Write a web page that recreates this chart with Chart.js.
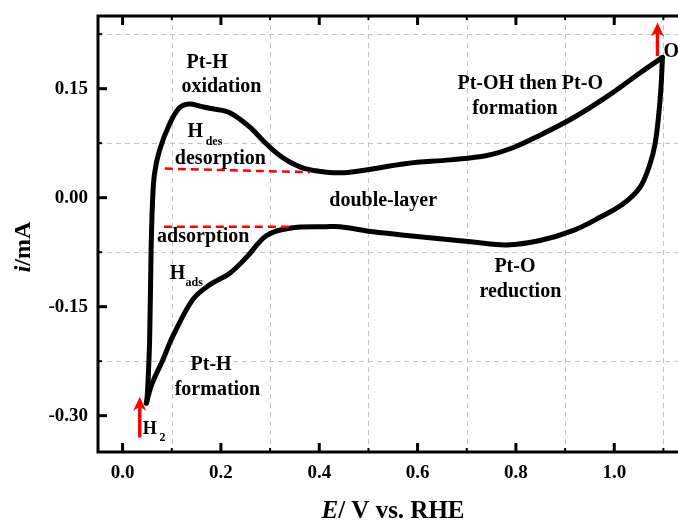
<!DOCTYPE html>
<html><head><meta charset="utf-8">
<script src="https://cdn.jsdelivr.net/npm/chart.js@4.4.0/dist/chart.umd.min.js"></script>
<style>
html,body{margin:0;padding:0;background:#fff;overflow:hidden;width:678px;height:521px;}
#wrap{position:relative;width:700px;height:521px;}
</style></head><body>
<div id="wrap"><canvas id="c" width="700" height="521"></canvas></div>
<script>
// ---- data (E in V vs. RHE, i in mA) ----
const anodicE = [0.049, 0.051, 0.055, 0.058, 0.061, 0.065, 0.075, 0.096, 0.116, 0.136, 0.157, 0.177, 0.218, 0.259, 0.285, 0.314, 0.340, 0.371, 0.415, 0.462, 0.578, 0.666, 0.741, 0.795, 0.849, 0.917, 0.985, 1.053, 1.098];
const anodicI = [-0.282, -0.264, -0.196, -0.072, -0.004, 0.033, 0.065, 0.102, 0.124, 0.129, 0.126, 0.123, 0.117, 0.097, 0.079, 0.061, 0.049, 0.040, 0.035, 0.035, 0.047, 0.052, 0.058, 0.069, 0.086, 0.110, 0.139, 0.172, 0.193];
const cathodicE = [1.098, 1.095, 1.090, 1.083, 1.073, 1.053, 1.019, 0.971, 0.917, 0.849, 0.781, 0.713, 0.578, 0.510, 0.442, 0.415, 0.340, 0.293, 0.252, 0.218, 0.177, 0.143, 0.102, 0.082, 0.060, 0.048];
const cathodicI = [0.193, 0.151, 0.111, 0.074, 0.047, 0.015, -0.008, -0.027, -0.045, -0.059, -0.065, -0.061, -0.052, -0.047, -0.040, -0.040, -0.042, -0.052, -0.082, -0.104, -0.120, -0.140, -0.191, -0.223, -0.256, -0.283];
const hdesLineE = [0.086, 0.381];
const hdesLineI = [0.040, 0.035];
const hadsLineE = [0.084, 0.340];
const hadsLineI = [-0.040, -0.040];
const arrowE = [0.035, 1.088];
const arrowFromI = [-0.330, 0.195];
const arrowToI = [-0.274, 0.241];
const xTickValues = [0.0, 0.2, 0.4, 0.6, 0.8, 1.0];
const yTickValues = [-0.30, -0.15, 0.00, 0.15];
const xMinorValues = [0.1, 0.3, 0.5, 0.7, 0.9, 1.1];
const yMinorValues = [-0.225, -0.075, 0.075, 0.225];

const FAMILY = '"Liberation Serif", "Times New Roman", serif';
const pts = (xs, ys) => xs.map((x, k) => ({x: x, y: ys[k]}));

// text annotations (data coordinates of baseline)
const notes = [
  {t:'Pt-H', e:0.172, i:0.179, s:20, a:'center'},
  {t:'oxidation', e:0.201, i:0.145, s:20, a:'center'},
  {t:'H', e:0.132, i:0.084, s:20, a:'left'},
  {t:'des', e:0.169, i:0.072, s:12, a:'left'},
  {t:'desorption', e:0.199, i:0.046, s:20, a:'center'},
  {t:'double-layer', e:0.530, i:-0.012, s:20, a:'center'},
  {t:'adsorption', e:0.164, i:-0.061, s:20, a:'center'},
  {t:'H', e:0.096, i:-0.112, s:20, a:'left'},
  {t:'ads', e:0.128, i:-0.122, s:12, a:'left'},
  {t:'Pt-H', e:0.180, i:-0.237, s:20, a:'center'},
  {t:'formation', e:0.193, i:-0.271, s:20, a:'center'},
  {t:'Pt-OH then Pt-O', e:0.829, i:0.150, s:20, a:'center'},
  {t:'formation', e:0.798, i:0.115, s:20, a:'center'},
  {t:'Pt-O', e:0.798, i:-0.102, s:20, a:'center'},
  {t:'reduction', e:0.809, i:-0.137, s:20, a:'center'},
  {t:'H', e:0.041, i:-0.325, s:18, a:'left'},
  {t:'2', e:0.075, i:-0.335, s:12, a:'left'},
  {t:'O', e:1.100, i:0.193, s:20, a:'left'},
  {t:'2', e:1.136, i:0.180, s:12, a:'left'}
];

function fnt(size, italic){ return (italic ? 'italic ' : '') + 'bold ' + size + 'px ' + FAMILY; }

const deco = {
  id: 'deco',
  beforeDatasetsDraw(chart){
    const {ctx, chartArea: ca, scales: {x, y}} = chart;
    ctx.save();
    ctx.strokeStyle = '#c4c4c4';
    ctx.lineWidth = 1;
    ctx.setLineDash([5, 4]);
    xMinorValues.forEach(v => {
      const px = Math.round(x.getPixelForValue(v)) + 0.5;
      ctx.beginPath(); ctx.moveTo(px, ca.top); ctx.lineTo(px, ca.bottom); ctx.stroke();
    });
    yMinorValues.forEach(v => {
      const py = Math.round(y.getPixelForValue(v)) + 0.5;
      ctx.beginPath(); ctx.moveTo(ca.left, py); ctx.lineTo(ca.right, py); ctx.stroke();
    });
    ctx.restore();
  },
  afterDatasetsDraw(chart){
    const {ctx, chartArea: ca, scales: {x, y}} = chart;
    ctx.save();
    // frame
    ctx.strokeStyle = '#000';
    ctx.lineWidth = 3;
    ctx.setLineDash([]);
    ctx.strokeRect(ca.left, ca.top, ca.right - ca.left, ca.bottom - ca.top);
    // inner ticks
    ctx.lineWidth = 3;
    xTickValues.forEach(v => {
      const px = x.getPixelForValue(v);
      ctx.beginPath(); ctx.moveTo(px, ca.bottom); ctx.lineTo(px, ca.bottom - 9); ctx.stroke();
      ctx.beginPath(); ctx.moveTo(px, ca.top); ctx.lineTo(px, ca.top + 9); ctx.stroke();
    });
    yTickValues.forEach(v => {
      const py = y.getPixelForValue(v);
      ctx.beginPath(); ctx.moveTo(ca.left, py); ctx.lineTo(ca.left + 9, py); ctx.stroke();
      ctx.beginPath(); ctx.moveTo(ca.right, py); ctx.lineTo(ca.right - 9, py); ctx.stroke();
    });
    ctx.lineWidth = 2;
    xMinorValues.forEach(v => {
      const px = x.getPixelForValue(v);
      ctx.beginPath(); ctx.moveTo(px, ca.bottom); ctx.lineTo(px, ca.bottom - 4); ctx.stroke();
      ctx.beginPath(); ctx.moveTo(px, ca.top); ctx.lineTo(px, ca.top + 4); ctx.stroke();
    });
    yMinorValues.forEach(v => {
      const py = y.getPixelForValue(v);
      ctx.beginPath(); ctx.moveTo(ca.left, py); ctx.lineTo(ca.left + 4, py); ctx.stroke();
      ctx.beginPath(); ctx.moveTo(ca.right, py); ctx.lineTo(ca.right - 4, py); ctx.stroke();
    });
    // red arrows
    ctx.strokeStyle = '#ff0000';
    ctx.fillStyle = '#ff0000';
    arrowE.forEach((e, k) => {
      const px = x.getPixelForValue(e);
      const y0 = y.getPixelForValue(arrowFromI[k]);
      const y1 = y.getPixelForValue(arrowToI[k]);
      ctx.lineWidth = 3.5;
      ctx.beginPath(); ctx.moveTo(px, y0); ctx.lineTo(px, y1 + 10); ctx.stroke();
      ctx.beginPath();
      ctx.moveTo(px, y1);
      ctx.lineTo(px - 6.5, y1 + 14);
      ctx.lineTo(px, y1 + 10);
      ctx.lineTo(px + 6.5, y1 + 14);
      ctx.closePath(); ctx.fill();
    });
    // annotations
    ctx.fillStyle = '#000';
    ctx.textBaseline = 'alphabetic';
    notes.forEach(n => {
      ctx.font = fnt(n.s, false);
      ctx.textAlign = n.a;
      ctx.fillText(n.t, x.getPixelForValue(n.e), y.getPixelForValue(n.i));
    });
    // x axis title: E/ V vs. RHE
    const tSize = 25;
    const partsX = [['E', true], ['/ V vs. RHE', false]];
    let total = 0;
    partsX.forEach(p => { ctx.font = fnt(tSize, p[1]); total += ctx.measureText(p[0]).width; });
    let cx = (ca.left + ca.right) / 2 - total / 2;
    ctx.textAlign = 'left';
    partsX.forEach(p => { ctx.font = fnt(tSize, p[1]); ctx.fillText(p[0], cx, 518); cx += ctx.measureText(p[0]).width; });
    // y axis title: i/mA
    ctx.save();
    ctx.translate(30, 247);
    ctx.rotate(-Math.PI / 2);
    const partsY = [['i', true], ['/mA', false]];
    total = 0;
    partsY.forEach(p => { ctx.font = fnt(24, p[1]); total += ctx.measureText(p[0]).width; });
    cx = -total / 2;
    partsY.forEach(p => { ctx.font = fnt(24, p[1]); ctx.fillText(p[0], cx, 0); cx += ctx.measureText(p[0]).width; });
    ctx.restore();
    ctx.restore();
  }
};

const lineStyle = {showLine: true, pointRadius: 0, fill: false, borderCapStyle: 'round', borderJoinStyle: 'round'};

new Chart(document.getElementById('c'), {
  type: 'scatter',
  data: {
    datasets: [
      Object.assign({label: 'Hdes level', data: pts(hdesLineE, hdesLineI), borderColor: '#ff0000', borderWidth: 2.5, borderDash: [8, 5], tension: 0}, lineStyle, {borderCapStyle: 'butt'}),
      Object.assign({label: 'Hads level', data: pts(hadsLineE, hadsLineI), borderColor: '#ff0000', borderWidth: 2.5, borderDash: [8, 5], tension: 0}, lineStyle, {borderCapStyle: 'butt'}),
      Object.assign({label: 'anodic', data: pts(anodicE, anodicI), borderColor: '#000', borderWidth: 5, tension: 0.35}, lineStyle),
      Object.assign({label: 'cathodic', data: pts(cathodicE, cathodicI), borderColor: '#000', borderWidth: 5, tension: 0.35}, lineStyle)
    ]
  },
  options: {
    responsive: false,
    animation: false,
    devicePixelRatio: 1,
    layout: {padding: {top: 16, right: 12, left: 0, bottom: 0}},
    plugins: {legend: {display: false}, tooltip: {enabled: false}},
    scales: {
      x: {
        type: 'linear', min: -0.05, max: 1.15,
        grid: {display: false, drawTicks: false},
        border: {display: false},
        ticks: {color: '#000', padding: 10, font: {family: FAMILY, size: 19, weight: 'bold'}, callback: v => Number(v).toFixed(1), maxRotation: 0, autoSkip: false},
        afterBuildTicks: s => { s.ticks = xTickValues.map(v => ({value: v})); },
        afterFit: s => { s.height = 69; s.paddingLeft = 0; s.paddingRight = 0; }
      },
      y: {
        type: 'linear', min: -0.35, max: 0.25,
        grid: {display: false, drawTicks: false},
        border: {display: false},
        ticks: {color: '#000', padding: 10, font: {family: FAMILY, size: 19, weight: 'bold'}, callback: v => Number(v).toFixed(2), autoSkip: false},
        afterBuildTicks: s => { s.ticks = yTickValues.map(v => ({value: v})); },
        afterFit: s => { s.width = 98; s.paddingTop = 0; s.paddingBottom = 0; }
      }
    }
  },
  plugins: [deco]
});
</script>
</body></html>
